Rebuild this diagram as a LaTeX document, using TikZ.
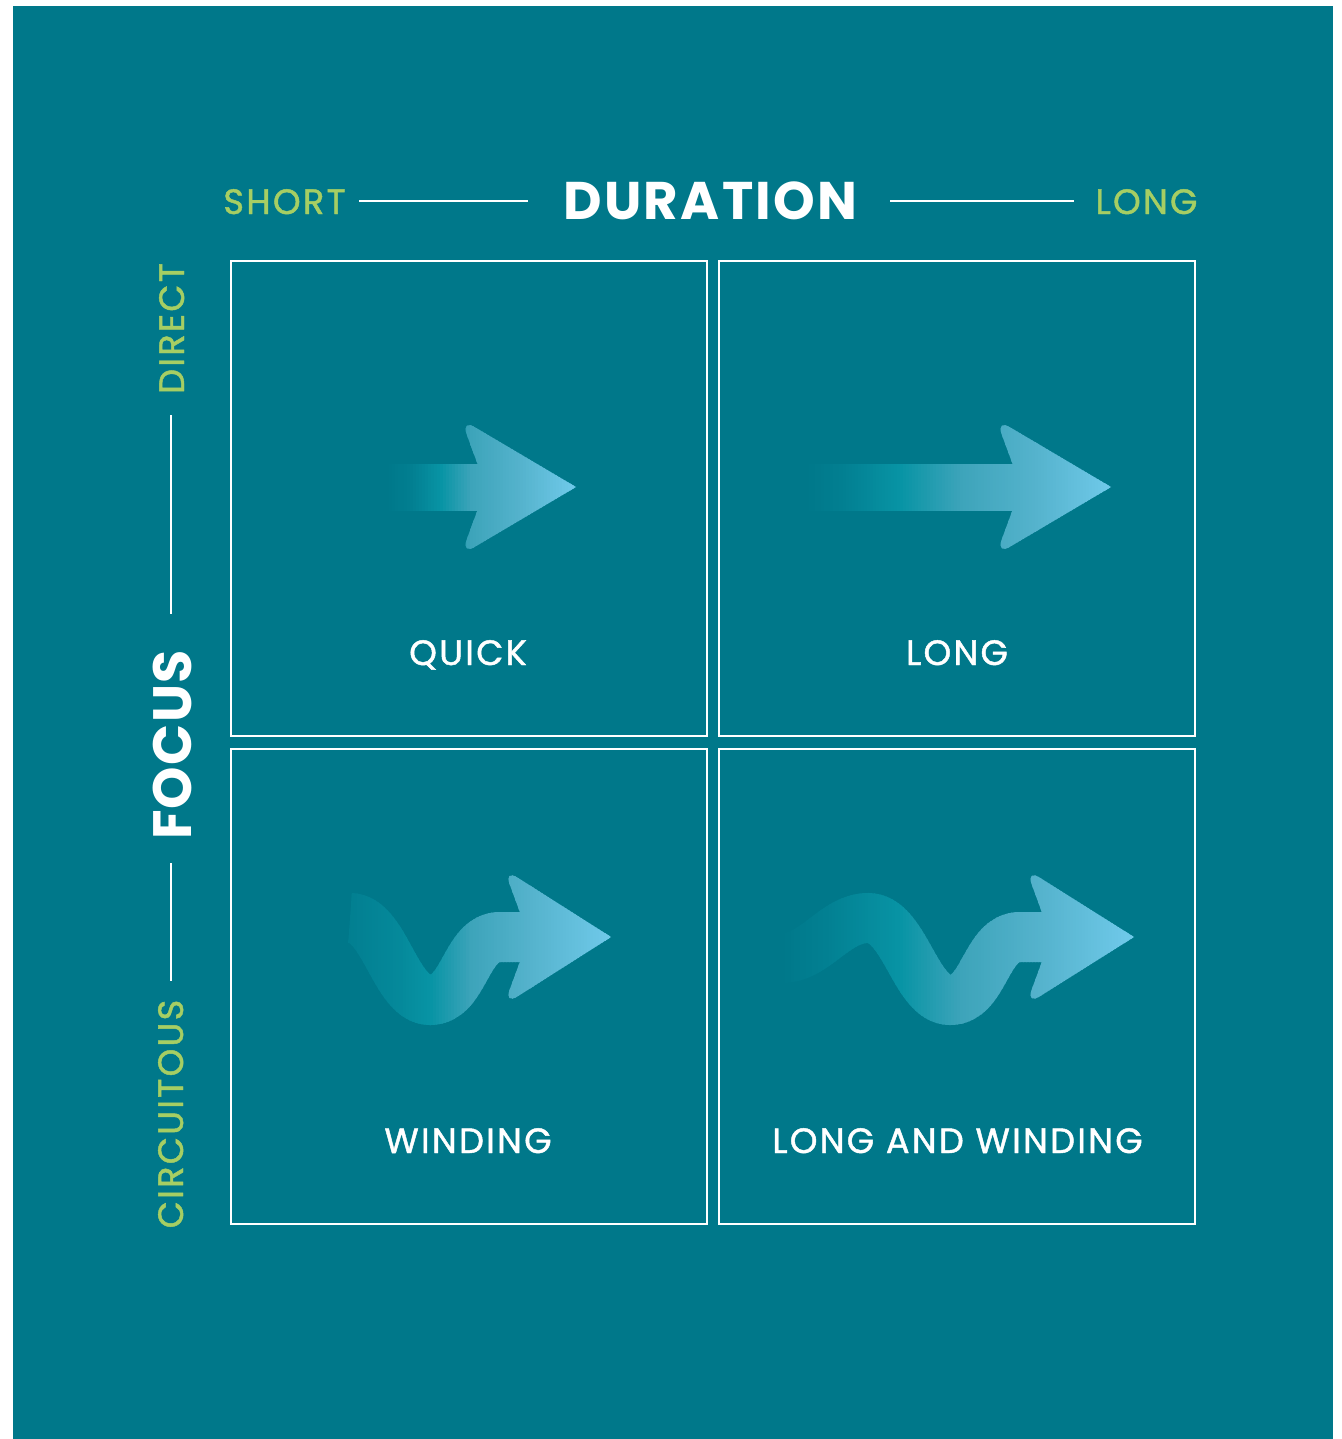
\documentclass[tikz,border=0pt]{standalone}
\usepackage{fontspec}
\setmainfont{Poppins}
\newfontfamily\lblfont[LetterSpace=6.5,FakeBold=1.3]{Poppins}
\newfontfamily\titlefont[LetterSpace=4.5]{Poppins}
\newfontfamily\focusfont[LetterSpace=2.5]{Poppins}
\usetikzlibrary{calc}
\definecolor{bgteal}{HTML}{00788A}
\definecolor{lgreen}{HTML}{A6CE63}
\definecolor{tealA}{HTML}{027F91}
\definecolor{tealB}{HTML}{0894A5}
\definecolor{tealC}{HTML}{3DA4BA}
\definecolor{tealD}{HTML}{55B3CD}
\definecolor{lblue}{HTML}{6EC8E8}
\colorlet{tealAB}{tealA!50!tealB}

% arrow head: #1 notch, #2 top corner, #3 tip, #4 bottom corner (back corners rounded)
\newcommand\arrowhead[4]{%
  \fill #1 -- ($#2!8pt!#1$) .. controls ($#2!3.6pt!#1$) and ($#2!3.6pt!#3$) .. ($#2!8pt!#3$) -- #3
        -- ($#4!8pt!#3$) .. controls ($#4!3.6pt!#3$) and ($#4!3.6pt!#1$) .. ($#4!8pt!#1$) -- cycle;}

% arrow shapes, drawn in the current colour
\newcommand\shpQuick{%
  \fill (388,464) rectangle (492,511);
  \arrowhead{(486,487)}{(461,419)}{(576,487)}{(461,555)}}
\newcommand\shpLong{%
  \fill (808,464) rectangle (1027,511);
  \arrowhead{(1021,487)}{(996,419)}{(1111,487)}{(996,555)}}
\newcommand\shpWindA{%
  \draw[line width=25pt] (350,918) .. controls (385,918) and (395,1000) .. (430,1000) .. controls (465,1000) and (465,937) .. (500,937) -- (540,937);
  \arrowhead{(529,937)}{(504,869)}{(611,937)}{(504,1005)}}
\newcommand\shpWindB{%
  \draw[line width=25pt] (782,958) .. controls (815,958) and (835,918) .. (868,918) .. controls (905,918) and (915,1000) .. (950,1000) .. controls (985,1000) and (985,937) .. (1020,937) -- (1062,937);
  \arrowhead{(1051,937)}{(1026,869)}{(1134,937)}{(1026,1005)}}

% #1 shape, #2 top y, #3 bottom y, #4 segments x0/x1/c0/c1
\newcommand\gradshape[4]{%
  \foreach \xa/\xb/\ca/\cb in {#4} {%
    \pgfmathtruncatemacro\N{(\xb-\xa)/3}%
    \foreach \i in {0,...,\N} {%
      \pgfmathsetmacro\s{\xa+3*\i}%
      \pgfmathtruncatemacro\p{100*3*\i/(\xb-\xa)}%
      \colorlet{stripc}{\cb!\p!\ca}%
      \begin{scope}[fill=stripc, draw=stripc]
        \clip (\s,#2) rectangle (\s+4,#3);
        #1
      \end{scope}
    }%
  }%
}

\begin{document}
\begin{tikzpicture}[x=0.5pt,y=-0.5pt,
  small/.style={font=\lblfont\fontsize{17.6}{20}\selectfont, inner sep=0pt, anchor=base},
  axlbl/.style={small, text=lgreen},
  celllbl/.style={small, text=white},
  bigt/.style={font=\titlefont\fontsize{26.5}{30}\selectfont\bfseries, inner sep=0pt, anchor=base, text=white},
  bigf/.style={font=\focusfont\fontsize{27}{30}\selectfont\bfseries, inner sep=0pt, anchor=base, text=white},
  cell/.style={draw=white, line width=0.75pt},
  axline/.style={draw=white, line width=0.75pt}]
\useasboundingbox (0,0) rectangle (1342,1439);
\fill[white] (0,0) rectangle (1342,1439);
\fill[bgteal] (13,6) rectangle (1333,1439);

% cells
\draw[cell] (231,261) rectangle (707,736);
\draw[cell] (719,261) rectangle (1195,736);
\draw[cell] (231,749) rectangle (707,1224);
\draw[cell] (719,749) rectangle (1195,1224);

% arrows (gradient built from thin clipped strips)
\gradshape{\shpQuick}{410}{565}{386/410/bgteal/tealA, 410/440/tealA/tealB, 440/470/tealB/tealC, 470/520/tealC/tealD, 520/570/tealD/lblue, 570/582/lblue/lblue}
\gradshape{\shpLong}{410}{565}{806/840/bgteal/tealA, 840/900/tealA/tealB, 900/960/tealB/tealC, 960/1035/tealC/tealD, 1035/1105/tealD/lblue, 1105/1118/lblue/lblue}
\gradshape{\shpWindA}{860}{1040}{348/400/tealA/tealAB, 400/430/tealAB/tealB, 430/470/tealB/tealC, 470/530/tealC/tealD, 530/605/tealD/lblue, 605/618/lblue/lblue}
\gradshape{\shpWindB}{860}{1040}{779/820/bgteal/tealA, 820/900/tealA/tealB, 900/960/tealB/tealC, 960/1040/tealC/tealD, 1040/1125/tealD/lblue, 1125/1140/lblue/lblue}

% top axis
\node[axlbl] (short) at (284.5,214) {SHORT};
\node[bigt] (duration) at (710.5,220) {DURATION};
\node[axlbl] (longt) at (1146.5,214) {LONG};
\coordinate (l1a) at (359,201); \coordinate (l1b) at (528,201);
\coordinate (l2a) at (890,201); \coordinate (l2b) at (1074,201);
\draw[axline] (l1a) -- (l1b);
\draw[axline] (l2a) -- (l2b);

% left axis
\node[axlbl, rotate=90] (direct) at (184,328.5) {DIRECT};
\node[bigf, rotate=90] (focus) at (191,745) {FOCUS};
\node[axlbl, rotate=90] (circ) at (183,1114) {CIRCUITOUS};
\coordinate (v1a) at (171,415); \coordinate (v1b) at (171,614);
\coordinate (v2a) at (171,863); \coordinate (v2b) at (171,981);
\draw[axline] (v1a) -- (v1b);
\draw[axline] (v2a) -- (v2b);

% cell labels
\node[celllbl] (quick) at (468,665) {QUICK};
\node[celllbl] (long) at (957,665) {LONG};
\node[celllbl] (winding) at (468,1153) {WINDING};
\node[celllbl] (lw) at (957.5,1153) {LONG AND WINDING};
\end{tikzpicture}
\end{document}
